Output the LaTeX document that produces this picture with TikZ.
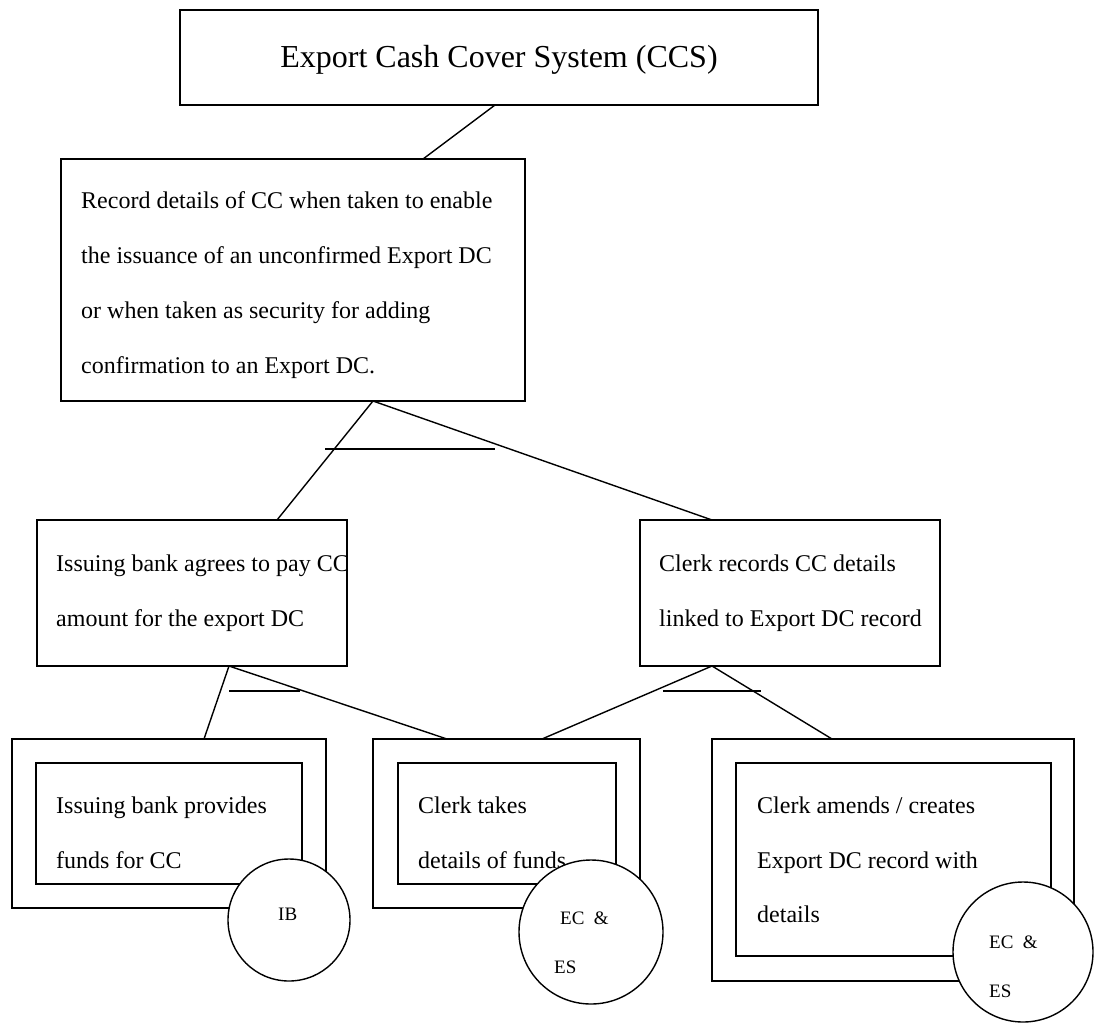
\documentclass[tikz,border=0pt]{standalone}
\usepackage{fontspec}
\setmainfont{Liberation Serif}
\begin{document}
\begin{tikzpicture}[x=1pt,y=-1pt,
  box/.style={draw,line width=1.4pt,inner sep=0pt,outer sep=0pt},
  conn/.style={line width=1.4pt},
  txt/.style={anchor=base west,inner sep=0pt,font=\fontsize{24}{28}\selectfont},
  titletxt/.style={anchor=base,inner sep=0pt,font=\fontsize{32}{36}\selectfont},
  role/.style={circle,draw,fill=white,line width=1.4pt,inner sep=0pt,outer sep=0pt},
  roletxt/.style={anchor=base west,inner sep=0pt,font=\fontsize{19}{22}\selectfont}]
\useasboundingbox (0,0) rectangle (1094,1025);

% process boxes
\node[box,minimum width=638pt,minimum height=95pt] (sys) at (499,57.5) {};
\node[box,minimum width=464pt,minimum height=242pt] (rec) at (293,280) {};
\node[box,minimum width=310pt,minimum height=146pt] (agree) at (192,593) {};
\node[box,minimum width=300pt,minimum height=146pt] (clerk) at (790,593) {};

% elementary steps: outer and inner frames
\node[box,minimum width=314pt,minimum height=169pt] (fundsO) at (169,823.5) {};
\node[box,minimum width=266pt,minimum height=121pt] (fundsI) at (169,823.5) {};
\node[box,minimum width=267pt,minimum height=169pt] (takesO) at (506.5,823.5) {};
\node[box,minimum width=218pt,minimum height=121pt] (takesI) at (507,823.5) {};
\node[box,minimum width=362pt,minimum height=242pt] (amendO) at (893,860) {};
\node[box,minimum width=315pt,minimum height=193pt] (amendI) at (893.5,859.5) {};

% texts
\node[titletxt] (tSys) at (499,67) {Export Cash Cover System (CCS)};
\node[txt] (tRec1) at (81,208) {Record details of CC when taken to enable};
\node[txt] (tRec2) at (81,263) {the issuance of an unconfirmed Export DC};
\node[txt] (tRec3) at (81,318) {or when taken as security for adding};
\node[txt] (tRec4) at (81,373) {confirmation to an Export DC.};
\node[txt] (tAg1) at (56,571) {Issuing bank agrees to pay CC};
\node[txt] (tAg2) at (56,626) {amount for the export DC};
\node[txt] (tCl1) at (659,571) {Clerk records CC details};
\node[txt] (tCl2) at (659,626) {linked to Export DC record};
\node[txt] (tFu1) at (56,813) {Issuing bank provides};
\node[txt] (tFu2) at (56,868) {funds for CC};
\node[txt] (tTa1) at (418,813) {Clerk takes};
\node[txt] (tTa2) at (418,868) {details of funds};
\node[txt] (tAm1) at (757,813) {Clerk amends / creates};
\node[txt] (tAm2) at (757,868) {Export DC record with};
\node[txt] (tAm3) at (757,922) {details};

% connectors
\coordinate (barA1) at (325,449);
\coordinate (barA2) at (495,449);
\coordinate (barB1) at (229,691);
\coordinate (barB2) at (300,691);
\coordinate (barC1) at (663,691);
\coordinate (barC2) at (761,691);
\draw[conn] ([xshift=315pt]sys.south west) -- ([xshift=362pt]rec.north west);
\draw[conn] ([xshift=240pt]agree.north west) -- ([xshift=312pt]rec.south west) -- ([xshift=72pt]clerk.north west);
\draw[conn] (barA1) -- (barA2);
\draw[conn] ([xshift=192pt]fundsO.north west) -- ([xshift=192pt]agree.south west) -- ([xshift=74pt]takesO.north west);
\draw[conn] (barB1) -- (barB2);
\draw[conn] ([xshift=169pt]takesO.north west) -- ([xshift=72pt]clerk.south west) -- ([xshift=120pt]amendO.north west);
\draw[conn] (barC1) -- (barC2);

% role circles
\node[role,minimum size=122pt] (ib) at (289,920) {};
\node[role,minimum size=144pt] (ecA) at (591,932) {};
\node[role,minimum size=140pt] (ecB) at (1023,952) {};
\node[roletxt] (tIb) at (278,920) {IB};
\node[roletxt] (tEcA1) at (560,924) {EC\ \ \&};
\node[roletxt] (tEcA2) at (554,973) {ES};
\node[roletxt] (tEcB1) at (989,948) {EC\ \ \&};
\node[roletxt] (tEcB2) at (989,997) {ES};
\end{tikzpicture}
\end{document}
